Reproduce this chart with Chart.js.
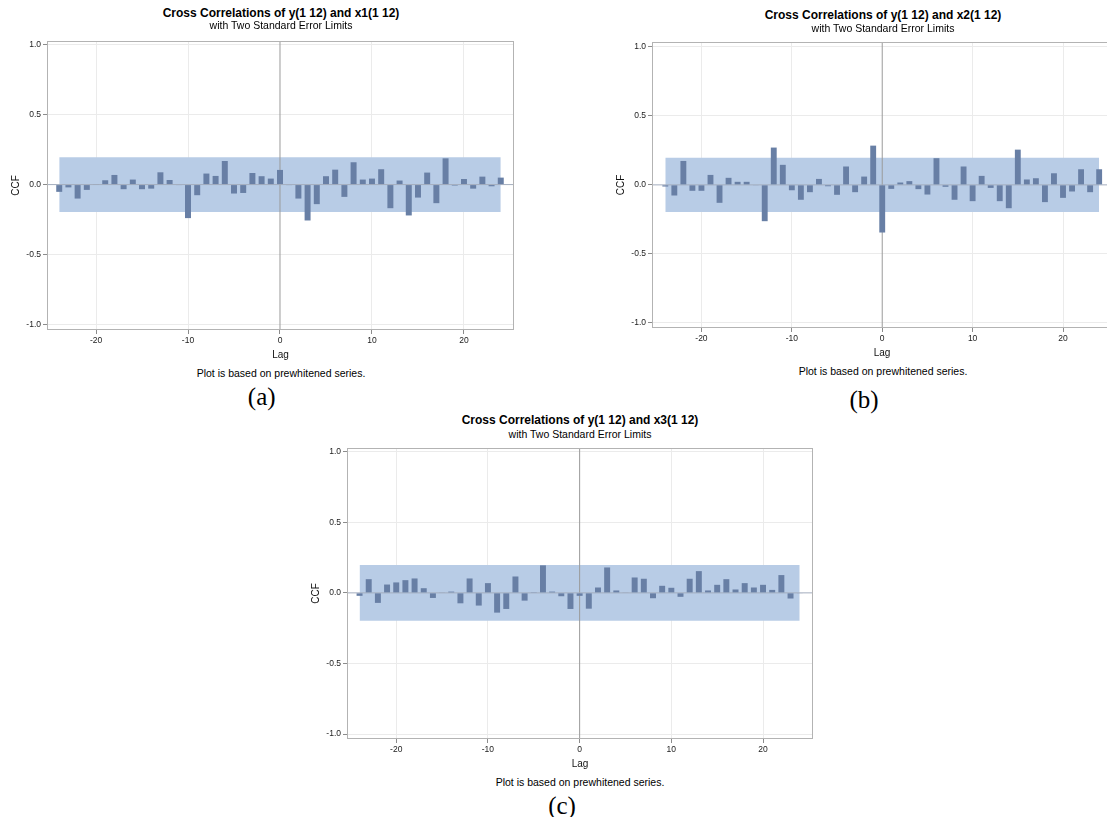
<!DOCTYPE html>
<html><head><meta charset="utf-8">
<script src="https://cdn.jsdelivr.net/npm/chart.js@4.4.1/dist/chart.umd.min.js"></script>
<style>
html,body{margin:0;padding:0;background:#fff;}
#page{position:relative;width:1107px;height:817px;overflow:hidden;}
.t{position:absolute;white-space:nowrap;transform:translate(-50%,-50%);line-height:1;font-family:"Liberation Sans",Arial,sans-serif;color:#000;}
.title{font-weight:bold;font-size:12px;}
.sub{font-size:10.5px;}
.foot{font-size:10.5px;}
.lab{font-family:"Liberation Serif","Times New Roman",serif;font-size:25px;}
canvas{position:absolute;}
</style></head>
<body><div id="page"></div>
<script>
// ---- data ----
const lags = [-24,-23,-22,-21,-20,-19,-18,-17,-16,-15,-14,-13,-12,-11,-10,-9,-8,-7,-6,-5,-4,-3,-2,-1,0,
              1,2,3,4,5,6,7,8,9,10,11,12,13,14,15,16,17,18,19,20,21,22,23,24];
const ccfX1 = [-0.052,-0.020,-0.100,-0.038,0.004,0.031,0.069,-0.033,0.036,-0.033,-0.029,0.088,0.033,-0.004,-0.240,-0.076,0.079,0.062,0.169,-0.064,-0.060,0.083,0.060,0.043,0.105,
               -0.003,-0.100,-0.257,-0.140,0.060,0.107,-0.088,0.160,0.036,0.043,0.110,-0.169,0.029,-0.221,-0.093,0.086,-0.133,0.188,-0.007,0.040,-0.029,0.057,-0.012,0.050];
const ccfX2 = [-0.012,-0.077,0.173,-0.043,-0.043,0.072,-0.130,0.051,0.022,0.022,-0.003,-0.263,0.270,0.145,-0.039,-0.108,-0.053,0.043,-0.010,-0.072,0.133,-0.053,0.060,0.284,-0.345,
               -0.029,0.017,0.027,-0.031,-0.070,0.193,-0.014,-0.108,0.133,-0.118,0.065,-0.022,-0.118,-0.169,0.255,0.039,0.048,-0.125,0.084,-0.094,-0.048,0.113,-0.053,0.113];
const ccfX3 = [-0.021,0.097,-0.071,0.059,0.074,0.090,0.102,0.033,-0.036,0.003,0.009,-0.074,0.102,-0.090,0.069,-0.140,-0.114,0.116,-0.055,0.002,0.195,0.009,-0.024,-0.114,-0.021,
               -0.112,0.038,0.180,0.017,0.003,0.109,0.100,-0.038,0.050,0.036,-0.028,0.100,0.154,0.017,0.057,0.097,0.024,0.069,0.038,0.057,0.021,0.126,-0.040,-0.003];
const stdErrLimits = [0.196, 0.197, 0.197];
const xTickValues = [-20,-10,0,10,20];
const yTickValues = [-1.0,-0.5,0.0,0.5,1.0];
const titles = ['Cross Correlations of y(1 12) and x1(1 12)','Cross Correlations of y(1 12) and x2(1 12)','Cross Correlations of y(1 12) and x3(1 12)'];
const subtitle = 'with Two Standard Error Limits';
const footnote = 'Plot is based on prewhitened series.';
const panelLabels = ['(a)','(b)','(c)'];
const xTitle = 'Lag', yTitle = 'CCF';

// ---- styles / layout ----
const BAND = '#b8cce6', BAR = '#687fa5', GRID = '#ebebeb', TICKC = '#8c8c8c', FRAME = '#b3b3b3';
const ZERO_H = '#a3adbd', ZERO_V = '#9a9a9a';
const FONT = '"Liberation Sans", Arial, sans-serif';
Chart.defaults.font.family = FONT;

const panels = [
  {series: ccfX1, lim: stdErrLimits[0], title: titles[0], label: panelLabels[0],
   canvas:{left:0, top:30, width:520, height:332}, plot:{left:48, top:42, right:513, bottom:329},
   xRange:[-25.22,25.33], yRange:[-1.034,1.021], yTitleOff:16,
   titleX:281, titleY:12.7, subY:25.3, footY:372.7, labX:261.7, labY:395.5},
  {series: ccfX2, lim: stdErrLimits[1], title: titles[1], label: panelLabels[1],
   canvas:{left:600, top:32, width:518, height:328}, plot:{left:653, top:43, right:1111, bottom:327},
   xRange:[-25.36,25.31], yRange:[-1.029,1.027], yTitleOff:21,
   titleX:883, titleY:15, subY:27.7, footY:371, labX:864, labY:398.5},
  {series: ccfX3, lim: stdErrLimits[2], title: titles[2], label: panelLabels[2],
   canvas:{left:300, top:440, width:520, height:331}, plot:{left:348, top:449, right:812, bottom:738},
   xRange:[-25.26,25.34], yRange:[-1.028,1.019], yTitleOff:16,
   titleX:580, titleY:420, subY:433.7, footY:781.7, labX:562, labY:804.5}
];

const page = document.getElementById('page');
function addText(cls, txt, x, y){
  const d = document.createElement('div');
  d.className = 't ' + cls; d.textContent = txt;
  d.style.left = x + 'px'; d.style.top = y + 'px';
  page.appendChild(d);
}

const framePlugin = {
  id:'frame',
  afterDatasetsDraw(chart){
    const {ctx, chartArea:a} = chart;
    ctx.save();
    ctx.strokeStyle = FRAME; ctx.lineWidth = 1;
    ctx.strokeRect(Math.round(a.left)-0.5, Math.round(a.top)-0.5, Math.round(a.right-a.left)+1, Math.round(a.bottom-a.top)+1);
    ctx.restore();
  }
};

function makePanel(p){
  const c = document.createElement('canvas');
  c.width = p.canvas.width; c.height = p.canvas.height;
  c.style.left = p.canvas.left + 'px'; c.style.top = p.canvas.top + 'px';
  c.style.width = p.canvas.width + 'px'; c.style.height = p.canvas.height + 'px';
  page.appendChild(c);
  const yAxisW = p.plot.left - p.canvas.left;
  const xAxisH = p.canvas.top + p.canvas.height - p.plot.bottom;
  const padTop = p.plot.top - p.canvas.top;
  const padRight = p.canvas.left + p.canvas.width - p.plot.right;
  const first = lags[0], last = lags[lags.length-1];
  const bars = lags.map((l,i)=>({x:l, y:p.series[i]}));
  const gridColor = ctx => (ctx.tick && ctx.tick.value === 0) ? 'rgba(0,0,0,0)' : GRID;
  new Chart(c, {
    type:'bar',
    data:{datasets:[
      {type:'line', data:[{x:first,y:p.lim},{x:last,y:p.lim}], fill:'+1', backgroundColor:BAND,
       borderColor:'rgba(0,0,0,0)', borderWidth:0, pointRadius:0, order:3},
      {type:'line', data:[{x:first,y:-p.lim},{x:last,y:-p.lim}], fill:false,
       borderColor:'rgba(0,0,0,0)', borderWidth:0, pointRadius:0, order:3},
      {type:'line', data:[{x:p.xRange[0],y:0},{x:p.xRange[1],y:0}], fill:false,
       borderColor:ZERO_H, borderWidth:1, pointRadius:0, order:2},
      {type:'line', data:[{x:0,y:p.yRange[0]},{x:0,y:p.yRange[1]}], fill:false,
       borderColor:ZERO_V, borderWidth:1, pointRadius:0, order:2},
      {type:'bar', data:bars, backgroundColor:BAR, borderWidth:0,
       barPercentage:0.65, categoryPercentage:1, order:1}
    ]},
    options:{
      responsive:false, animation:false, devicePixelRatio:1,
      layout:{padding:{top:padTop, right:padRight, left:0, bottom:0}},
      plugins:{legend:{display:false}, tooltip:{enabled:false}},
      scales:{
        x:{type:'linear', min:p.xRange[0], max:p.xRange[1], offset:false,
           afterBuildTicks: s => { s.ticks = xTickValues.map(v=>({value:v})); },
           afterFit: s => { s.height = xAxisH; },
           grid:{offset:false, color:gridColor, lineWidth:1, drawTicks:true, tickLength:5, tickColor:TICKC},
           border:{display:false},
           ticks:{font:{size:8.5}, color:'#222', padding:2, maxRotation:0, autoSkip:false, callback:v=>String(v)},
           title:{display:true, text:xTitle, font:{size:10}, color:'#111', padding:{top:0, bottom:1}}
        },
        y:{type:'linear', min:p.yRange[0], max:p.yRange[1],
           afterBuildTicks: s => { s.ticks = yTickValues.map(v=>({value:v})); },
           afterFit: s => { s.width = yAxisW; },
           grid:{color:gridColor, lineWidth:1, drawTicks:true, tickLength:5, tickColor:TICKC},
           border:{display:false},
           ticks:{font:{size:8.5}, color:'#222', padding:2, autoSkip:false, callback:v=>Number(v).toFixed(1)},
           title:{display:true, text:yTitle, font:{size:10}, color:'#111', padding:{top:p.yTitleOff-6, bottom:0}}
        }
      }
    },
    plugins:[framePlugin]
  });
  addText('title', p.title, p.titleX, p.titleY);
  addText('sub', subtitle, p.titleX, p.subY);
  addText('foot', footnote, p.titleX, p.footY);
  addText('lab', p.label, p.labX, p.labY);
}
panels.forEach(makePanel);
</script>
</body></html>
